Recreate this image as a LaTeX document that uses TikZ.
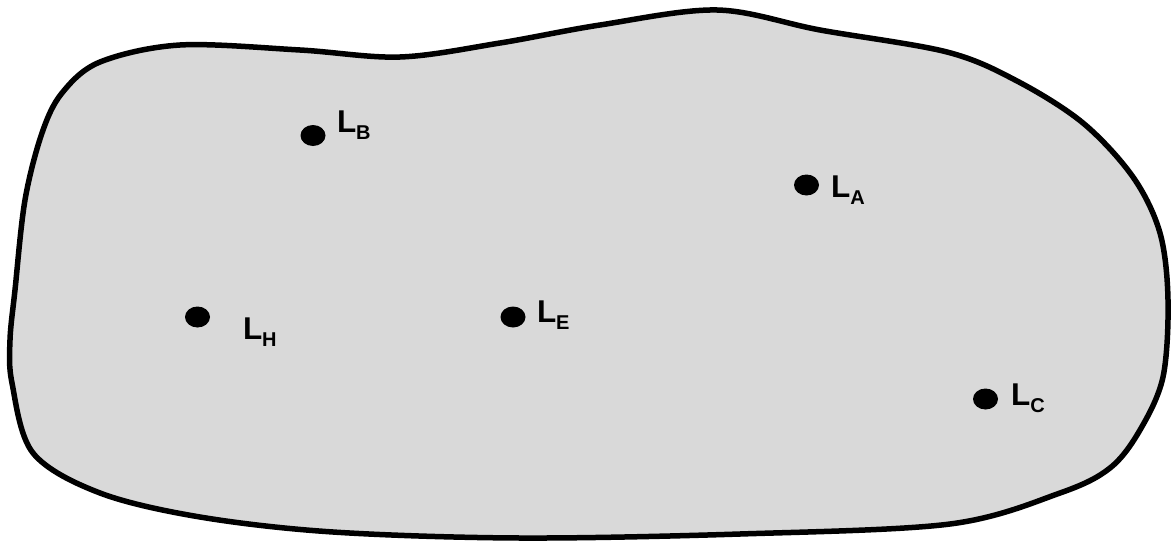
\documentclass[tikz,border=0pt]{standalone}
\usepackage{fontspec}
\setmainfont{Liberation Sans}
\usetikzlibrary{shapes.geometric}
\definecolor{blobgray}{RGB}{217,217,217}
\newcommand{\lbl}[1]{\fontsize{31.5}{34}\selectfont\bfseries L\raisebox{-7.5pt}{\fontsize{20}{22}\selectfont\bfseries #1}}
\begin{document}
\begin{tikzpicture}[x=1pt,y=-1pt,
  dot/.style={ellipse,fill=black,minimum width=25pt,minimum height=21pt,inner sep=0pt},
  lab/.style={anchor=base west,inner sep=0pt,outer sep=0pt}]
\useasboundingbox (0,0) rectangle (1172,543);
\draw[line width=5.5pt,fill=blobgray] plot[smooth cycle,tension=0.55] coordinates {
 (180,45) (300,50) (400,57) (500,43) (600,25) (717,10) (820,30) (947,52)
 (1017,81) (1083,123) (1133,177) (1160,233) (1168,300) (1163,377)
 (1140,430) (1110,468) (1060,493) (950,524) (740,534) (520,538) (333,532)
 (200,517) (100,493) (33,453) (12,383) (10,340) (15,290) (25,200)
 (42,133) (62,93) (100,62)};
\node[dot] (dB) at (313,135.5) {};
\node[lab] (lB) at (337,132) {\lbl{B}};
\node[dot] (dH) at (197.5,317) {};
\node[lab] (lH) at (243,339) {\lbl{H}};
\node[dot] (dE) at (513,317) {};
\node[lab] (lE) at (537,322) {\lbl{E}};
\node[dot] (dA) at (806.5,185) {};
\node[lab] (lA) at (831,197) {\lbl{A}};
\node[dot] (dC) at (985.5,399) {};
\node[lab] (lC) at (1011,405) {\lbl{C}};
\end{tikzpicture}
\end{document}
